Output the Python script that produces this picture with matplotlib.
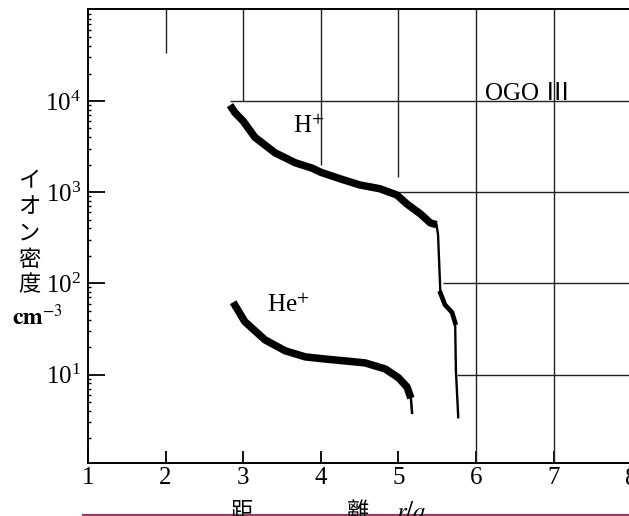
import numpy as np
import matplotlib.pyplot as plt
import matplotlib.transforms as mtransforms
from matplotlib.lines import Line2D

plt.rcParams['font.family'] = ['Liberation Serif', 'Noto Sans CJK JP', 'DejaVu Sans']
plt.rcParams['mathtext.fontset'] = 'stix'

# H+ density (band part, then the steep drop near the plasmapause)
h_x = [2.83, 2.89, 3.0, 3.15, 3.41, 3.67, 3.89, 4.0, 4.25, 4.5, 4.76, 4.98, 5.11, 5.28, 5.41, 5.49]
h_y = [9000, 7500, 6000, 4000, 2700, 2100, 1830, 1650, 1400, 1200, 1090, 930, 740, 580, 460, 440]
h_drop_x = [5.49, 5.51, 5.54, 5.60, 5.69, 5.73, 5.74, 5.77]
h_drop_y = [440, 340, 78, 58, 48, 37, 11, 3.4]

# He+ density
he_x = [2.87, 3.02, 3.28, 3.54, 3.80, 4.05, 4.31, 4.57, 4.83, 5.0, 5.11, 5.16]
he_y = [62, 38, 24, 18.2, 15.6, 14.8, 14.1, 13.4, 11.5, 9.2, 7.3, 5.5]
he_drop_x = [5.16, 5.175]
he_drop_y = [5.5, 3.8]

xticks = [1, 2, 3, 4, 5, 6, 7]
yticks = [10, 100, 1000, 10000]

fig = plt.figure(figsize=(6.29, 5.16), dpi=100)
ax = fig.add_axes([88/629, 1-463/516, 1-88/629, 454/516])
ax.set_yscale('log')
ax.set_xlim(1, 7.97)
ax.set_ylim(1.07, 1.02e5)

# partial grid lines as in the original
gc = '#222222'
glw = 1.0
ax.vlines(2, 3.36e4, 1.02e5, color=gc, lw=glw)
ax.vlines(3, 1e4, 1.02e5, color=gc, lw=glw)
ax.vlines(4, 2000, 1.02e5, color=gc, lw=glw)
ax.vlines(5, 1470, 1.02e5, color=gc, lw=glw)
ax.vlines(6, 1.07, 1.02e5, color=gc, lw=glw)
ax.vlines(7, 1.07, 1.02e5, color=gc, lw=glw)
ax.hlines(1e4, 2.83, 7.97, color=gc, lw=glw)
ax.hlines(1e3, 5.0, 7.97, color=gc, lw=glw)
ax.hlines(1e2, 5.575, 7.97, color=gc, lw=glw)
ax.hlines(1e1, 5.755, 7.97, color=gc, lw=glw)

ax.plot(h_x, h_y, color='black', lw=5.4, solid_capstyle='butt', solid_joinstyle='round')
ax.plot(h_drop_x, h_drop_y, color='black', lw=1.7)
ax.plot(h_drop_x[2:6], h_drop_y[2:6], color='black', lw=3.4)
ax.plot(he_x, he_y, color='black', lw=5.4, solid_capstyle='butt', solid_joinstyle='round')
ax.plot(he_drop_x, he_drop_y, color='black', lw=1.8)

for s in ['left', 'bottom', 'top']:
    ax.spines[s].set_linewidth(1.4)
ax.spines['right'].set_visible(False)

ax.set_xticks(xticks)
ax.set_xticklabels([str(v) for v in xticks])
ax.set_yticks(yticks)
ax.tick_params(axis='both', direction='in', labelsize=18, width=1.3, top=False, right=False)
ax.tick_params(axis='y', length=12, pad=5)
ax.tick_params(axis='x', length=9, pad=3)
ax.tick_params(axis='y', which='minor', direction='in', length=2, width=1)

# the "8" label sits at the right edge, as in the scan
trans = mtransforms.blended_transform_factory(ax.transData, ax.transAxes)
ax.text(8.0, -0.012, '8', transform=trans, ha='center', va='top', fontsize=18, clip_on=False)

# annotations
ax.text(6.116, 10250, 'OGO Ⅲ', fontsize=18, va='baseline', ha='left')
ax.text(3.642, 4460, r'H$^{+}$', fontsize=18, va='baseline', ha='left')
ax.text(3.307, 48.5, r'He$^{+}$', fontsize=18, va='baseline', ha='left')

# vertical japanese y label
for i, ch in enumerate('イオン密度'):
    fig.text(29/629, 1-(181+26*i)/516, ch, fontsize=16, ha='center', va='center',
             family=['Noto Sans CJK JP', 'DejaVu Sans'])
fig.text(12/629, 1-325/516, r'$\mathbf{cm}^{-3}$', fontsize=17, ha='left', va='baseline')

# x label at the bottom edge of the scan
fig.text(241/629, 1-500/516, '距', fontsize=16, ha='center', va='top',
         family=['Noto Sans CJK JP', 'DejaVu Sans'])
fig.text(358/629, 1-500/516, '離', fontsize=16, ha='center', va='top',
         family=['Noto Sans CJK JP', 'DejaVu Sans'])
fig.text(411/629, 1-502/516, r'$r/a$', fontsize=18, ha='center', va='top')

# magenta rule at the bottom of the scan
fig.add_artist(Line2D([83/629, 1.0], [1-515/516, 1-515/516], transform=fig.transFigure,
                      color='#9c3a6a', lw=1.6))

fig.savefig('out.png', dpi=100)
